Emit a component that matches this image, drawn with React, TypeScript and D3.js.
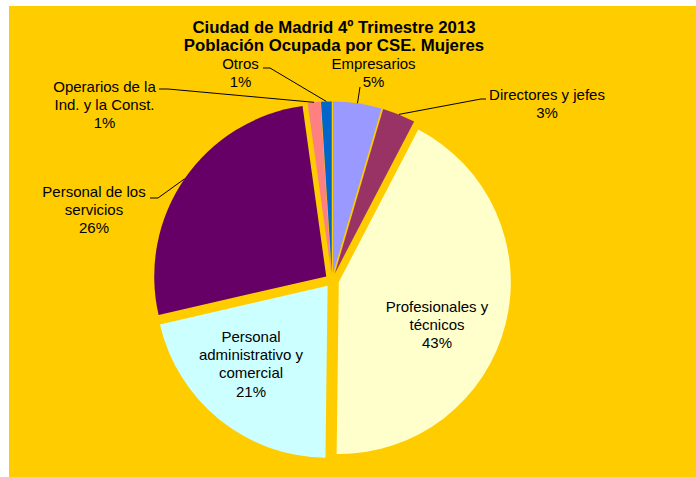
import React from "react";
import * as d3 from "d3";

const categories = [
  "Empresarios",
  "Directores y jefes",
  "Profesionales y técnicos",
  "Personal administrativo y comercial",
  "Personal de los servicios",
  "Operarios de la Ind. y la Const.",
  "Otros",
];
const values = [4.55, 3.1, 42.55, 21.2, 26.4, 1.2, 1.0];
const colors = ["#9999FF", "#993366", "#FFFFCC", "#CCFFFF", "#660066", "#FF8080", "#0066CC"];
const labelLines = [
  ["Empresarios"],
  ["Directores y jefes"],
  ["Profesionales y", "técnicos"],
  ["Personal", "administrativo y", "comercial"],
  ["Personal de los", "servicios"],
  ["Operarios de la", "Ind. y la Const."],
  ["Otros"],
];
const titleLines = ["Ciudad de Madrid 4º Trimestre 2013", "Población Ocupada por CSE. Mujeres"];

const W = 696;
const H = 477;
const CX = 332;
const CY = 280.4;
const R = 172;
const EXPLODE = 7;
const FONT = "'Liberation Sans', Arial, sans-serif";
const LH = 18.2;

// label layout: center x, first baseline y, leader polyline start points (null = none)
const labelLayout = [
  { x: 373.5, y: 69, leader: [[360, 87]] },
  { x: 547, y: 100, leader: [[486, 99], [481, 99]] },
  { x: 437, y: 312, leader: null },
  { x: 251, y: 342, leader: null },
  { x: 94, y: 197, leader: [[150, 198], [158, 198]] },
  { x: 104.5, y: 92, leader: [[159, 89], [168, 89]] },
  { x: 240.5, y: 68.5, leader: [[263, 68], [270, 68]] },
];

export default function App() {
  const total = d3.sum(values);
  const pie = d3
    .pie<number>()
    .sort(null)
    .value((d) => d)
    .startAngle(0)
    .endAngle(2 * Math.PI);
  const arcs = pie(values);
  const arcGen = d3.arc<d3.PieArcDatum<number>>().innerRadius(0).outerRadius(R);

  return (
    <svg
      width={W}
      height={H}
      style={{ position: "absolute", left: 0, top: 0 }}
      xmlns="http://www.w3.org/2000/svg"
    >
      <rect x={0} y={0} width={W} height={H} fill="#ffffff" />
      <rect x={9} y={6} width={W - 9} height={H - 6} fill="#FFCC00" />
      <g fontFamily={FONT} fontWeight="bold" fontSize={16.8} textAnchor="middle" fill="#000">
        {titleLines.map((t, i) => (
          <text key={i} x={334} y={33 + i * 17.8}>
            {t}
          </text>
        ))}
      </g>
      <g>
        {arcs.map((a, i) => {
          const mid = (a.startAngle + a.endAngle) / 2;
          const ox = EXPLODE * Math.sin(mid);
          const oy = -EXPLODE * Math.cos(mid);
          return (
            <path
              key={i}
              d={arcGen(a) || ""}
              transform={`translate(${CX + ox},${CY + oy})`}
              fill={colors[i]}
            />
          );
        })}
      </g>
      <g fill="none" stroke="#000" strokeWidth={1}>
        {arcs.map((a, i) => {
          const lay = labelLayout[i];
          if (!lay.leader) return null;
          const mid = (a.startAngle + a.endAngle) / 2;
          const ex = CX + (EXPLODE + R) * Math.sin(mid);
          const ey = CY - (EXPLODE + R) * Math.cos(mid);
          const pts = [...lay.leader, [ex, ey]];
          return <polyline key={i} points={pts.map((p) => p.join(",")).join(" ")} />;
        })}
      </g>
      <g fontFamily={FONT} fontSize={15} textAnchor="middle" fill="#000">
        {arcs.map((a, i) => {
          const lay = labelLayout[i];
          const pct = Math.round((values[i] / total) * 100) + "%";
          const lines = [...labelLines[i], pct];
          return (
            <text key={i} x={lay.x} y={lay.y}>
              {lines.map((l, j) => (
                <tspan key={j} x={lay.x} y={lay.y + j * LH}>
                  {l}
                </tspan>
              ))}
            </text>
          );
        })}
      </g>
    </svg>
  );
}
